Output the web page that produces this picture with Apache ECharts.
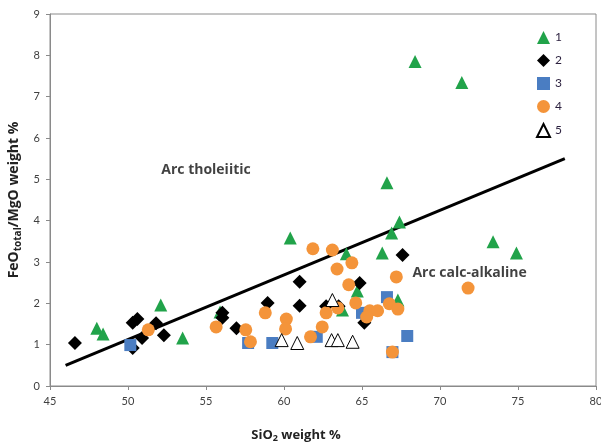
<!DOCTYPE html>
<html>
<head>
<meta charset="utf-8">
<script src="https://cdn.jsdelivr.net/npm/echarts@6/dist/echarts.min.js"></script>
<style>html,body{margin:0;padding:0;background:#fff}#c{width:601px;height:442px}</style>
</head>
<body>
<div id="c"></div>
<script>
// ---- data (SiO2 wt%, FeOt/MgO) ----
var series1 = [[68.4,7.85],[71.4,7.34],[66.6,4.92],[67.4,3.97],[66.9,3.70],[60.4,3.58],[73.4,3.49],[74.9,3.22],[66.3,3.22],[64.0,3.20],[64.7,2.30],[63.75,1.84],[67.3,2.08],[48.0,1.40],[48.4,1.26],[52.1,1.96],[53.5,1.16],[55.9,1.79]];
var series2 = [[46.6,1.04],[50.3,1.53],[50.6,1.62],[50.9,1.16],[50.3,0.92],[51.8,1.52],[52.3,1.23],[56.05,1.65],[56.05,1.77],[56.95,1.40],[58.95,2.01],[61.0,2.52],[61.0,1.94],[62.7,1.93],[63.5,1.93],[64.85,2.49],[65.15,1.53],[67.6,3.17]];
var series3 = [[50.15,0.99],[57.7,1.04],[59.25,1.04],[62.1,1.19],[65.0,1.77],[66.6,2.15],[67.9,1.21],[66.95,0.82]];
var series4 = [[51.3,1.36],[55.65,1.43],[61.85,3.32],[63.1,3.29],[64.35,2.98],[63.4,2.83],[64.15,2.45],[64.6,2.01],[63.45,1.89],[62.7,1.77],[58.8,1.77],[60.15,1.62],[60.1,1.38],[57.55,1.36],[57.85,1.07],[62.45,1.43],[61.7,1.19],[65.5,1.82],[66.0,1.82],[65.3,1.67],[66.75,1.99],[67.3,1.86],[67.2,2.64],[71.8,2.37],[66.95,0.82]];
var series5 = [[59.85,1.11],[60.85,1.04],[63.1,2.08],[63.05,1.11],[63.45,1.11],[64.4,1.07]];
var dividerLine = [[46,0.5],[78,5.5]];
var seriesNames = ['1','2','3','4','5'];
var fieldLabels = [{name:'Arc tholeiitic', value:[55.0,5.23]},{name:'Arc calc-alkaline', value:[71.9,2.74]}];

var FONT = 'Lato, "Open Sans", sans-serif';
var TFONT = '"Open Sans", Lato, sans-serif';
var chart = echarts.init(document.getElementById('c'), null, {renderer:'canvas'});
chart.setOption({
  animation:false,
  backgroundColor:'#fff',
  textStyle:{fontFamily:FONT},
  grid:{left:50,right:5,top:14,bottom:56,show:true,borderColor:'#8a8a8a',borderWidth:1,containLabel:false,outerBoundsMode:'none'},
  legend:{
    data:seriesNames, orient:'vertical', left:531, top:26, itemGap:10,
    itemWidth:13, itemHeight:13, textStyle:{fontSize:12,color:'#2a1f3d',fontFamily:FONT}
  },
  xAxis:{
    type:'value', min:45, max:80, interval:5,
    axisLine:{show:true,lineStyle:{color:'#8a8a8a'}},
    axisTick:{show:true,inside:false,length:4,lineStyle:{color:'#8a8a8a'}},
    axisLabel:{fontSize:11,color:'#404040',margin:10},
    splitLine:{show:false},
    name:'{a|SiO}{s|2}{a| weight %}', nameLocation:'middle', nameGap:42,
    nameTextStyle:{padding:[0,54,0,0],rich:{a:{fontSize:13,fontWeight:'bold',color:'#222',fontFamily:TFONT},s:{fontSize:9,fontWeight:'bold',color:'#222',fontFamily:TFONT,padding:[6,0,0,0]}}}
  },
  yAxis:{
    type:'value', min:0, max:9, interval:1,
    axisLine:{show:true,lineStyle:{color:'#8a8a8a'}},
    axisTick:{show:true,inside:false,length:4,lineStyle:{color:'#8a8a8a'}},
    axisLabel:{fontSize:11,color:'#404040',margin:10},
    splitLine:{show:false},
    name:'{a|FeO}{s|total}{a|/MgO weight %}', nameLocation:'middle', nameGap:23, nameRotate:90,
    nameTextStyle:{rich:{a:{fontSize:14,fontWeight:'bold',color:'#222',fontFamily:TFONT},s:{fontSize:10,fontWeight:'bold',color:'#222',fontFamily:TFONT,padding:[7,0,0,0]}}}
  },
  series:[
    {name:'line', type:'line', data:dividerLine, symbol:'none', lineStyle:{color:'#000',width:3}, z:1, silent:true},
    {name:'1', type:'scatter', data:series1, symbol:'triangle', symbolSize:13, itemStyle:{color:'#21a34a',opacity:1}, z:2},
    {name:'2', type:'scatter', data:series2, symbol:'diamond', symbolSize:[14,14], itemStyle:{color:'#000',opacity:1}, z:3},
    {name:'3', type:'scatter', data:series3, symbol:'rect', symbolSize:12, itemStyle:{color:'#4a7dc2',opacity:1}, z:4},
    {name:'4', type:'scatter', data:series4, symbol:'circle', symbolSize:13, itemStyle:{color:'#f4943a',opacity:1}, z:5},
    {name:'5', type:'scatter', data:series5, symbol:'triangle', symbolSize:13, itemStyle:{color:'#fff',borderColor:'#000',borderWidth:1,opacity:1}, z:6},
    {name:'labels', type:'scatter', data:fieldLabels, symbolSize:0, silent:true, z:7,
     label:{show:true, position:'inside', formatter:'{b}', fontSize:14, fontWeight:'bold', color:'#111', fontFamily:TFONT}}
  ]
});
</script>
</body>
</html>
